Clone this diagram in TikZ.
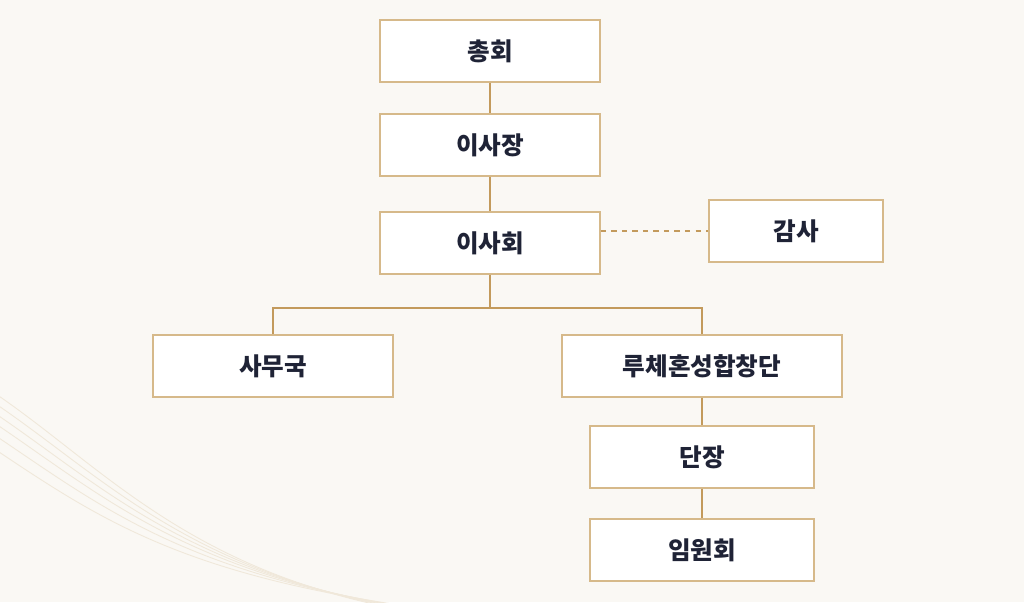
\documentclass[tikz,border=0pt]{standalone}
\usepackage{fontspec}
\setmainfont{Noto Sans CJK KR}
\usetikzlibrary{positioning,calc}
\definecolor{bgcream}{HTML}{FAF8F4}
\definecolor{boxgold}{HTML}{D6B98A}
\definecolor{linegold}{HTML}{C39A5C}
\definecolor{textnavy}{HTML}{1F2336}
\definecolor{wavegold}{HTML}{F0E8DA}
\tikzset{
  orgbox/.style={draw=boxgold, line width=0.8pt, fill=white, minimum height=1.24cm,
    font=\fontsize{14}{16}\selectfont\bfseries, text=textnavy},
  link/.style={draw=linegold, line width=0.9pt},
}
\begin{document}
\begin{tikzpicture}[x=0.02cm,y=-0.02cm]
% Background
\fill[bgcream] (0,0) rectangle (1024,602);
\useasboundingbox (0,0) rectangle (1024,602);
% Faint waves bottom left
\foreach \s in {0,10,20,30,42,56} {
  \draw[wavegold, line width=0.5pt] (-10,390+\s) .. controls (110,470+\s) and (200,590) .. (470+\s,620);
}
% Top chain
\node[orgbox, minimum width=4.4cm] (assembly) at (490,51) {총회};
\node[orgbox, minimum width=4.4cm] (chair) at (490,145) {이사장};
\node[orgbox, minimum width=4.4cm] (board) at (490,243) {이사회};
\node[orgbox, minimum width=3.48cm] (audit) at (796,231) {감사};
% Second level
\node[orgbox, minimum width=4.8cm] (office) at (273,366) {사무국};
\node[orgbox, minimum width=5.6cm] (choir) at (702,366) {루체혼성합창단};
\node[orgbox, minimum width=4.48cm] (director) at (702,457) {단장};
\node[orgbox, minimum width=4.48cm] (council) at (702,550) {임원회};
% Connectors
\draw[link] (assembly) -- (chair);
\draw[link] (chair) -- (board);
\draw[link, dash pattern=on 3pt off 3pt] (board.east |- audit.west) -- (audit.west);
\coordinate (split) at (490,308);
\draw[link] (board.south) -- (split);
\draw[link] (office.north) |- (split) -| (choir.north);
\draw[link] (choir) -- (director);
\draw[link] (director) -- (council);
\end{tikzpicture}
\end{document}
